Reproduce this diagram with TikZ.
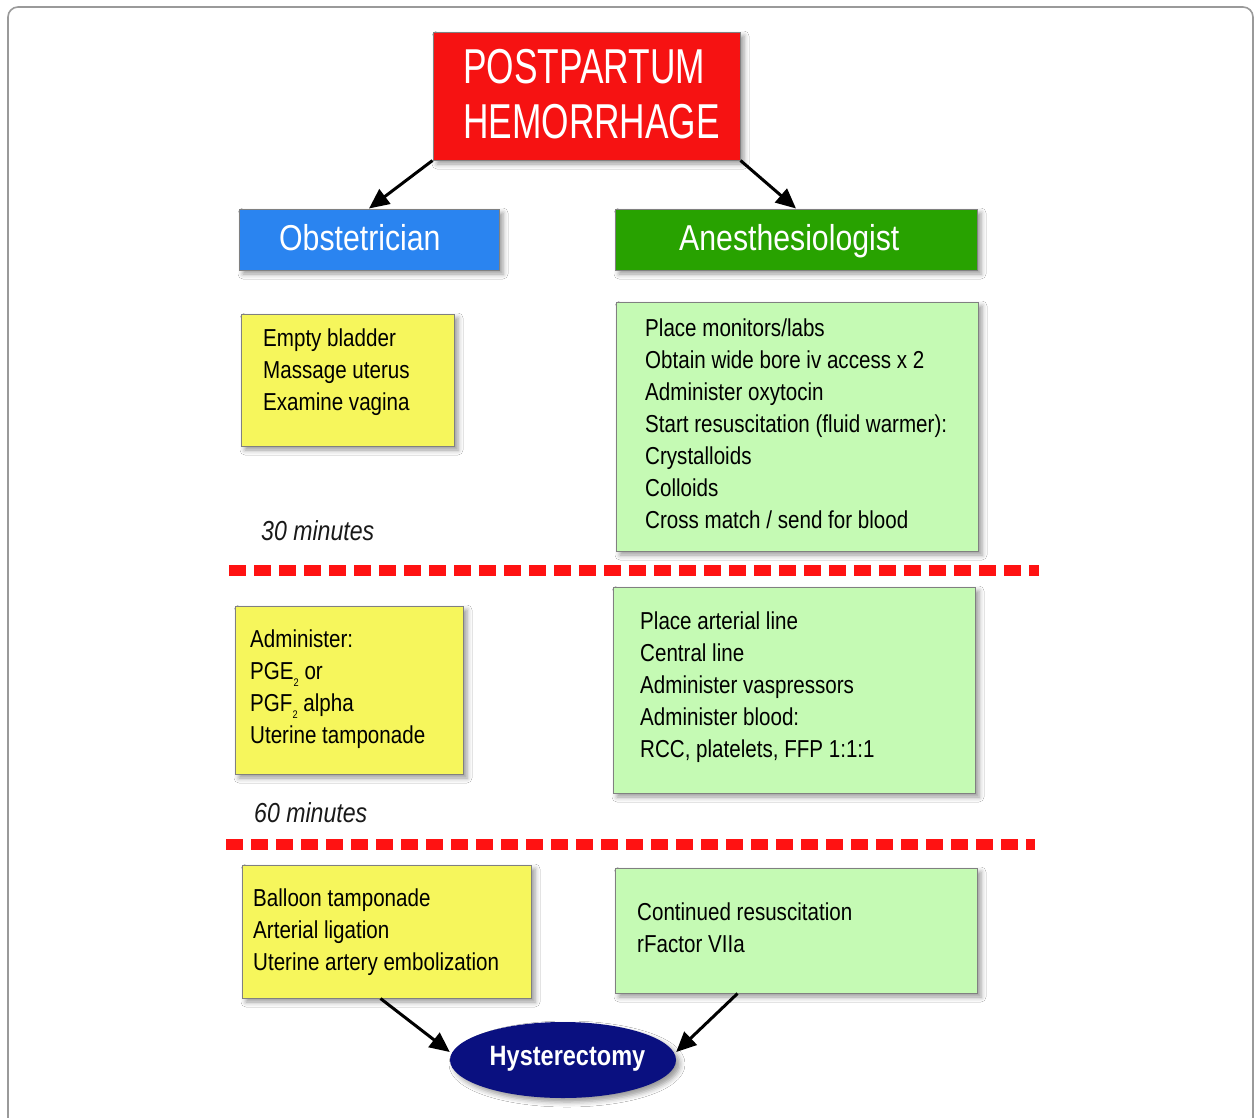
\documentclass[tikz,border=0pt]{standalone}
\usepackage{fontspec}
\setmainfont{Liberation Sans}[FakeStretch=0.84]
\newfontfamily\titlefont{Liberation Sans}[FakeStretch=0.72]
\usetikzlibrary{arrows.meta,shapes.geometric,shadows.blur}
\definecolor{titlered}{RGB}{246,18,18}
\definecolor{obsblue}{RGB}{42,132,240}
\definecolor{anesgreen}{RGB}{40,162,0}
\definecolor{noteyellow}{RGB}{246,246,92}
\definecolor{notegreen}{RGB}{197,250,180}
\definecolor{hystnavy}{RGB}{10,16,128}
\definecolor{dashred}{RGB}{255,18,18}
\definecolor{edgegray}{RGB}{128,128,128}
\newcommand\bodyfont{\fontsize{24.5}{32}\selectfont}
\newcommand\headfont{\fontsize{36}{44}\selectfont}
\newcommand\timefont{\fontsize{27.5}{32}\selectfont\itshape}
\newcommand\bigtitlefont{\titlefont\fontsize{49}{55}\selectfont}
\newcommand\subtwo{\raisebox{-0.3em}{\fontsize{11}{11}\selectfont 2}}
\tikzset{
  x=1pt, y=-1pt,
  boxsz/.style 2 args={minimum width=#1, minimum height=#2, inner sep=0pt},
  panel/.style={draw=edgegray, line width=1pt,
    blur shadow={shadow xshift=4pt, shadow yshift=-4pt, shadow blur radius=5pt, shadow opacity=40}},
  bodytext/.style={anchor=west, align=left, inner sep=0pt, font=\bodyfont, text=black},
  headtext/.style={anchor=west, inner sep=0pt, font=\headfont, text=white},
  timetext/.style={anchor=west, inner sep=0pt, font=\timefont, text=black!90},
  divider/.style={draw=dashred, line width=11pt, dash pattern=on 17pt off 8pt},
  flow/.style={line width=3pt, -{Triangle[length=20pt,width=18pt]}, black},
}
\begin{document}
\begin{tikzpicture}
\useasboundingbox (0,0) rectangle (1255,1117);
\fill[white] (0,0) rectangle (1255,1117);
\clip (0,0) rectangle (1255,1117);
% outer frame
\draw[edgegray!80, line width=1.6pt, rounded corners=10pt] (8,7) rectangle (1253,1135);

% time dividers
\draw[divider] (229,570) -- (1039,570);
\draw[divider] (226,844) -- (1035,844);

% title
\node[panel, fill=titlered, boxsz={307}{128}] (title) at (586.5,96) {};
\node[anchor=west, align=left, inner sep=0pt, font=\bigtitlefont, text=white] (titletext) at (463,100) {\strut POSTPARTUM\\\strut HEMORRHAGE};

% column headers
\node[panel, fill=obsblue, boxsz={260}{61}] (obs) at (369,239.5) {};
\node[headtext] (obstext) at (279,242) {\strut Obstetrician};

\node[panel, fill=anesgreen, boxsz={362}{61}] (anes) at (796,239.5) {};
\node[headtext] (anestext) at (679,242) {\strut Anesthesiologist};

% first stage
\node[panel, fill=noteyellow, boxsz={213}{132}] (y1) at (347.5,380) {};
\node[bodytext] (y1text) at (263,371.6) {\strut Empty bladder\\\strut Massage uterus\\\strut Examine vagina};

\node[panel, fill=notegreen, boxsz={362}{249}] (g1) at (797,426.5) {};
\node[bodytext] (g1text) at (645,425.6) {\strut Place monitors/labs\\\strut Obtain wide bore iv access x 2\\\strut Administer oxytocin\\\strut Start resuscitation (fluid warmer):\\\strut Crystalloids\\\strut Colloids\\\strut Cross match / send for blood};

\node[timetext] (t30) at (261,534) {\strut 30 minutes};

% second stage
\node[panel, fill=noteyellow, boxsz={228}{168}] (y2) at (349,690) {};
\node[bodytext] (y2text) at (250,688.6) {\strut Administer:\\\strut PGE\subtwo{} or\\\strut PGF\subtwo{} alpha\\\strut Uterine tamponade};

\node[panel, fill=notegreen, boxsz={362}{206}] (g2) at (794,690) {};
\node[bodytext] (g2text) at (640,686.6) {\strut Place arterial line\\\strut Central line\\\strut Administer vaspressors\\\strut Administer blood:\\\strut RCC, platelets, FFP 1:1:1};

\node[timetext] (t60) at (254,816) {\strut 60 minutes};

% third stage
\node[panel, fill=noteyellow, boxsz={289}{133}] (y3) at (386.5,931.5) {};
\node[bodytext] (y3text) at (253,931.6) {\strut Balloon tamponade\\\strut Arterial ligation\\\strut Uterine artery embolization};

\node[panel, fill=notegreen, boxsz={362}{125}] (g3) at (796,930.5) {};
\node[bodytext] (g3text) at (637,929.6) {\strut Continued resuscitation\\\strut rFactor VIIa};

% hysterectomy
\node[ellipse, fill=hystnavy, minimum width=226pt, minimum height=76pt, inner sep=0pt,
  blur shadow={shadow xshift=4pt, shadow yshift=-4pt, shadow blur radius=5pt, shadow opacity=40}] (hyst) at (563,1060) {};
\node[inner sep=0pt, text=white, font=\fontsize{28}{34}\selectfont\bfseries] (hysttext) at (567.5,1059) {Hysterectomy};

% connectors
\draw[flow] (title.south west) -- (obs.north);
\draw[flow] (title.south east) -- (anes.north);
\draw[flow] ([xshift=-6pt]y3.south) -- ([yshift=8pt]hyst.west);
\draw[flow] ([xshift=123pt]g3.south west) -- ([yshift=8pt]hyst.east);
\end{tikzpicture}
\end{document}
